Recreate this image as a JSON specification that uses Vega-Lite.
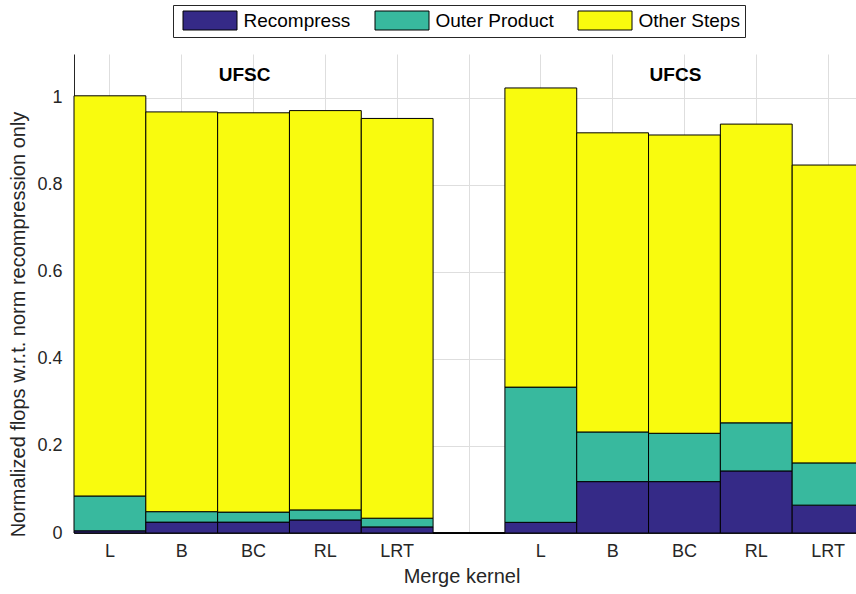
{
  "$schema": "https://vega.github.io/schema/vega-lite/v6.json",
  "width": 782,
  "height": 479,
  "autosize": "none",
  "padding": {"left": 74, "top": 54, "right": 0, "bottom": 61},
  "config": {
    "view": {"stroke": null},
    "font": "Liberation Sans",
    "axis": {
      "gridColor": "#dedede",
      "gridWidth": 1,
      "domainColor": "#262626",
      "domainWidth": 1,
      "labelColor": "#262626",
      "titleColor": "#262626",
      "labelFont": "Liberation Sans",
      "titleFont": "Liberation Sans",
      "titleFontWeight": "normal"
    }
  },
  "layer": [
    {
      "data": {
        "values": [
          {"slot": 1, "series": "Recompress", "ord": 1, "value": 0.005},
          {"slot": 1, "series": "Outer Product", "ord": 2, "value": 0.080},
          {"slot": 1, "series": "Other Steps", "ord": 3, "value": 0.919},
          {"slot": 2, "series": "Recompress", "ord": 1, "value": 0.025},
          {"slot": 2, "series": "Outer Product", "ord": 2, "value": 0.024},
          {"slot": 2, "series": "Other Steps", "ord": 3, "value": 0.918},
          {"slot": 3, "series": "Recompress", "ord": 1, "value": 0.025},
          {"slot": 3, "series": "Outer Product", "ord": 2, "value": 0.023},
          {"slot": 3, "series": "Other Steps", "ord": 3, "value": 0.917},
          {"slot": 4, "series": "Recompress", "ord": 1, "value": 0.030},
          {"slot": 4, "series": "Outer Product", "ord": 2, "value": 0.023},
          {"slot": 4, "series": "Other Steps", "ord": 3, "value": 0.917},
          {"slot": 5, "series": "Recompress", "ord": 1, "value": 0.014},
          {"slot": 5, "series": "Outer Product", "ord": 2, "value": 0.020},
          {"slot": 5, "series": "Other Steps", "ord": 3, "value": 0.918},
          {"slot": 6, "series": "Recompress", "ord": 1, "value": 0},
          {"slot": 6, "series": "Outer Product", "ord": 2, "value": 0},
          {"slot": 6, "series": "Other Steps", "ord": 3, "value": 0},
          {"slot": 7, "series": "Recompress", "ord": 1, "value": 0.0245},
          {"slot": 7, "series": "Outer Product", "ord": 2, "value": 0.3105},
          {"slot": 7, "series": "Other Steps", "ord": 3, "value": 0.687},
          {"slot": 8, "series": "Recompress", "ord": 1, "value": 0.118},
          {"slot": 8, "series": "Outer Product", "ord": 2, "value": 0.114},
          {"slot": 8, "series": "Other Steps", "ord": 3, "value": 0.687},
          {"slot": 9, "series": "Recompress", "ord": 1, "value": 0.118},
          {"slot": 9, "series": "Outer Product", "ord": 2, "value": 0.111},
          {"slot": 9, "series": "Other Steps", "ord": 3, "value": 0.685},
          {"slot": 10, "series": "Recompress", "ord": 1, "value": 0.1425},
          {"slot": 10, "series": "Outer Product", "ord": 2, "value": 0.1105},
          {"slot": 10, "series": "Other Steps", "ord": 3, "value": 0.686},
          {"slot": 11, "series": "Recompress", "ord": 1, "value": 0.064},
          {"slot": 11, "series": "Outer Product", "ord": 2, "value": 0.097},
          {"slot": 11, "series": "Other Steps", "ord": 3, "value": 0.684}
        ]
      },
      "mark": {"type": "bar", "stroke": "black", "strokeWidth": 1, "opacity": 1},
      "encoding": {
        "x": {
          "field": "slot",
          "type": "ordinal",
          "scale": {"type": "band", "paddingInner": 0, "paddingOuter": 0, "range": [0, 790]},
          "axis": {
            "title": "Merge kernel",
            "titleFontSize": 20,
            "titleX": 387.5,
            "titleY": 49,
            "titleBaseline": "alphabetic",
            "titleAnchor": null,
            "titleAlign": "center",
            "labelExpr": "['L','B','BC','RL','LRT','','L','B','BC','RL','LRT'][datum.value-1]",
            "labelAngle": 0,
            "labelFontSize": 18,
            "labelPadding": 9,
            "ticks": false,
            "bandPosition": 0.5,
            "grid": true
          }
        },
        "y": {
          "field": "value",
          "type": "quantitative",
          "stack": "zero",
          "scale": {"domain": [0, 1.1], "nice": false},
          "axis": {
            "title": "Normalized flops w.r.t. norm recompression only",
            "titleFontSize": 20,
            "titleAngle": -90,
            "titleX": -56,
            "titleY": 270,
            "titleAlign": "center",
            "titleBaseline": "middle",
            "titleAnchor": null,
            "values": [0, 0.2, 0.4, 0.6, 0.8, 1],
            "format": ".1~f",
            "labelFontSize": 18,
            "labelPadding": 12,
            "ticks": false,
            "grid": true
          }
        },
        "color": {
          "field": "series",
          "type": "nominal",
          "scale": {
            "domain": ["Recompress", "Outer Product", "Other Steps"],
            "range": ["#352a87", "#38b99e", "#f9fb0e"]
          },
          "legend": {
            "title": null,
            "orient": "none",
            "direction": "horizontal",
            "legendX": 99,
            "legendY": -49,
            "padding": 5,
            "strokeColor": "#262626",
            "fillColor": "white",
            "symbolType": "M-2.7,-0.95H2.7V0.95H-2.7Z",
            "symbolSize": 400,
            "symbolOffset": 21.5,
            "symbolStrokeColor": "black",
            "symbolStrokeWidth": 1,
            "symbolOpacity": 1,
            "labelFontSize": 19,
            "labelFont": "Liberation Sans",
            "labelColor": "black",
            "labelOffset": 23,
            "columnPadding": 19
          }
        },
        "order": {"field": "ord", "type": "quantitative"}
      }
    },
    {
      "data": {
        "values": [
          {"slot": 3, "label": "UFSC", "pos": 1.037},
          {"slot": 9, "label": "UFCS", "pos": 1.037}
        ]
      },
      "mark": {"type": "text", "fontWeight": "bold", "fontSize": 19, "font": "Liberation Sans", "baseline": "alphabetic", "align": "center", "dx": -9, "color": "black"},
      "encoding": {
        "x": {"field": "slot", "type": "ordinal"},
        "y": {"field": "pos", "type": "quantitative"},
        "text": {"field": "label"}
      }
    }
  ]
}
